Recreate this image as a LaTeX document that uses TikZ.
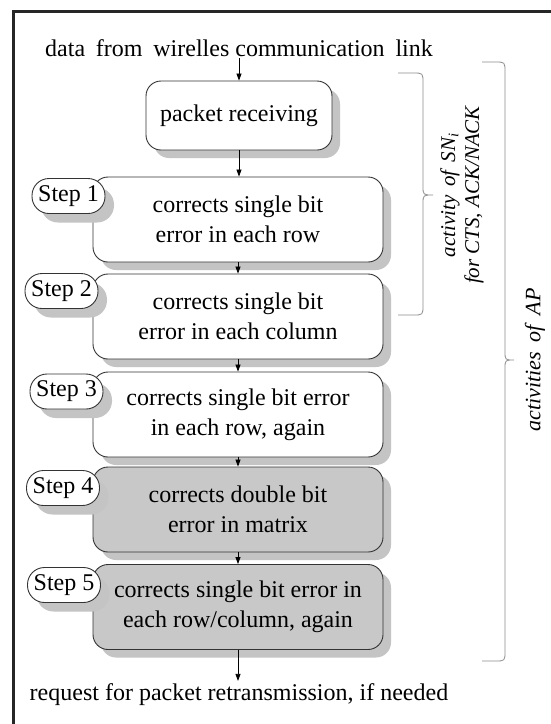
\documentclass[tikz,border=0pt]{standalone}
\usepackage{fontspec}
\setmainfont{LiberationSerif}[Extension=.ttf, UprightFont=*-Regular, ItalicFont=*-Italic, BoldFont=*-Bold, BoldItalicFont=*-BoldItalic]
\usetikzlibrary{shadows,arrows.meta}
\definecolor{shade}{HTML}{C4C4C4}
\definecolor{boxgray}{HTML}{C8C8C8}
\definecolor{linec}{HTML}{333333}
\definecolor{bracec}{HTML}{8C8C8C}
\tikzset{
  txt/.style={font=\rmfamily\fontsize{24}{30}\selectfont, inner sep=2pt},
  procbox/.style={draw=linec, line width=0.9pt, rounded corners=15pt, fill=white,
    align=center, minimum width=290pt, minimum height=85pt, inner sep=0pt,
    font=\rmfamily\fontsize{24}{30}\selectfont,
    drop shadow={shadow xshift=8pt, shadow yshift=-8pt, fill=shade, opacity=1}},
  graybox/.style={procbox, fill=boxgray},
  steplabel/.style={draw=linec, line width=0.9pt, rounded corners=17pt, fill=white,
    minimum width=73pt, minimum height=35pt, inner sep=0pt,
    font=\rmfamily\fontsize{24}{30}\selectfont,
    drop shadow={shadow xshift=9pt, shadow yshift=-9pt, fill=shade, opacity=1}},
  flow/.style={-{Triangle[length=7pt,width=5pt]}, line width=0.8pt, black},
  bracepath/.style={draw=bracec, line width=0.8pt},
  bracetxt/.style={rotate=90, align=center, text=black}
}
\begin{document}
\begin{tikzpicture}[x=1pt,y=-1pt]
\useasboundingbox (0,0) rectangle (551,724);
\fill[white] (0,0) rectangle (551,724);
% frame
\draw[line width=3pt, black!85] (13,740) -- (13,11) -- (570,11);

% top text
\node[txt, anchor=base] (top) at (239,56) {data\hspace{0.45em}from\hspace{0.45em}wirelles communication\hspace{0.45em}link};

% packet receiving
\node[procbox, minimum width=186pt, minimum height=69pt] (pkt) at (239,115.5) {packet receiving};

% step boxes
\node[procbox] (s1) at (238,219.5) {corrects single bit\\error in each row};
\node[steplabel] (l1) at (68.5,196) {Step 1};
\node[procbox] (s2) at (238,316.5) {corrects single bit\\error in each column};
\node[steplabel] (l2) at (61.5,291) {Step 2};
\node[procbox] (s3) at (238,414.5) {corrects single bit error\\in each row, again};
\node[steplabel] (l3) at (66.5,391.5) {Step 3};
\node[graybox] (s4) at (238,509.5) {corrects double bit\\error in matrix};
\node[steplabel] (l4) at (63,488) {Step 4};
\node[graybox] (s5) at (238,607) {corrects single bit error in\\each row/column, again};
\node[steplabel] (l5) at (64,585) {Step 5};

% bottom text
\node[txt, anchor=base] (bot) at (239,700) {request for packet retransmission, if needed};

% arrows
\draw[flow] (top.south -| pkt.north) -- (pkt.north);
\draw[flow] (pkt.south) -- (s1.north -| pkt.south);
\draw[flow] (s1.south) -- (s2.north);
\draw[flow] (s2.south) -- (s3.north);
\draw[flow] (s3.south) -- (s4.north);
\draw[flow] (s4.south) -- (s5.north);
\draw[flow] (s5.south) -- (s5.south |- bot.north);

% small brace
\draw[bracepath] (398,73) -- (413,73) .. controls (423,73) .. (423,83) -- (423,186)
  .. controls (423,195) .. (433,195) .. controls (423,195) .. (423,204) -- (423,305)
  .. controls (423,315) .. (413,315) -- (398,315);
\node[bracetxt, font=\rmfamily\fontsize{21}{24}\itshape] (sn) at (462,195)
  {activity\hspace{0.4em}of\hspace{0.4em}SN\textsubscript{\textit{i}}\\for CTS, ACK/NACK};

% large brace
\draw[bracepath] (482,62) -- (495,62) .. controls (505,62) .. (505,72) -- (505,351)
  .. controls (505,360) .. (514,360) .. controls (505,360) .. (505,369) -- (505,651)
  .. controls (505,661) .. (495,661) -- (482,661);
\node[bracetxt, font=\rmfamily\fontsize{22}{26}\itshape] (ap) at (535,360)
  {activities\hspace{0.45em}of\hspace{0.45em}AP};
\end{tikzpicture}
\end{document}
